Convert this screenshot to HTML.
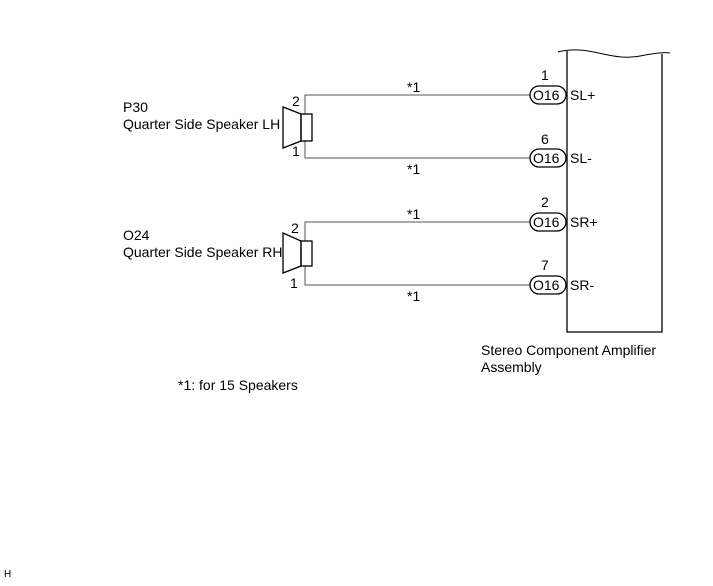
<!DOCTYPE html>
<html><head><style>
body{margin:0;background:#fff;}
svg text{font-family:"Liberation Sans",Arial,sans-serif;font-size:14px;fill:#000;}
</style></head><body>
<svg width="713" height="581" viewBox="0 0 713 581" xmlns="http://www.w3.org/2000/svg">
<g fill="none" stroke="#000" stroke-width="1">
<path d="M558 52 C590 44 610 62 640 56 C655 53 665 52 670 53" stroke-width="1"/>
<path d="M567 51 V332 H662 V54" stroke-width="1.3"/>
<g stroke="#555">
<path d="M305 114 V95 H530"/>
<path d="M305 140 V158 H530"/>
<path d="M305 241 V222 H530"/>
<path d="M305 266 V285 H530"/>
</g>
<g stroke-width="1.3">
<path d="M301 114 L283 107 V148 L301 141 Z"/>
<rect x="301" y="114" width="11" height="27"/>
<path d="M301 241 L283 233 V273 L301 266 Z"/>
<rect x="301" y="241" width="11" height="25"/>
<rect x="530" y="86" width="36" height="18" rx="9"/>
<rect x="530" y="149" width="36" height="18" rx="9"/>
<rect x="530" y="213" width="36" height="18" rx="9"/>
<rect x="530" y="276" width="36" height="18" rx="9"/>
</g>
</g>
<text x="533" y="100">O16</text><text x="533" y="163">O16</text>
<text x="533" y="227">O16</text><text x="533" y="290">O16</text>
<text x="570" y="100">SL+</text><text x="570" y="163">SL-</text>
<text x="570" y="227">SR+</text><text x="570" y="290">SR-</text>
<text x="541" y="80">1</text><text x="541" y="144">6</text>
<text x="541" y="207">2</text><text x="541" y="270">7</text>
<text x="407" y="92">*1</text><text x="407" y="174">*1</text>
<text x="407" y="219">*1</text><text x="407" y="301">*1</text>
<text x="292" y="106">2</text><text x="292" y="156">1</text>
<text x="291" y="233">2</text><text x="290" y="288">1</text>
<text x="123" y="112">P30</text>
<text x="123" y="129">Quarter Side Speaker LH</text>
<text x="123" y="240">O24</text>
<text x="123" y="257">Quarter Side Speaker RH</text>
<text x="481" y="355">Stereo Component Amplifier</text>
<text x="481" y="372">Assembly</text>
<text x="178" y="390">*1: for 15 Speakers</text>
<text x="4" y="577" style="font-size:10px">H</text>
</svg>
</body></html>
